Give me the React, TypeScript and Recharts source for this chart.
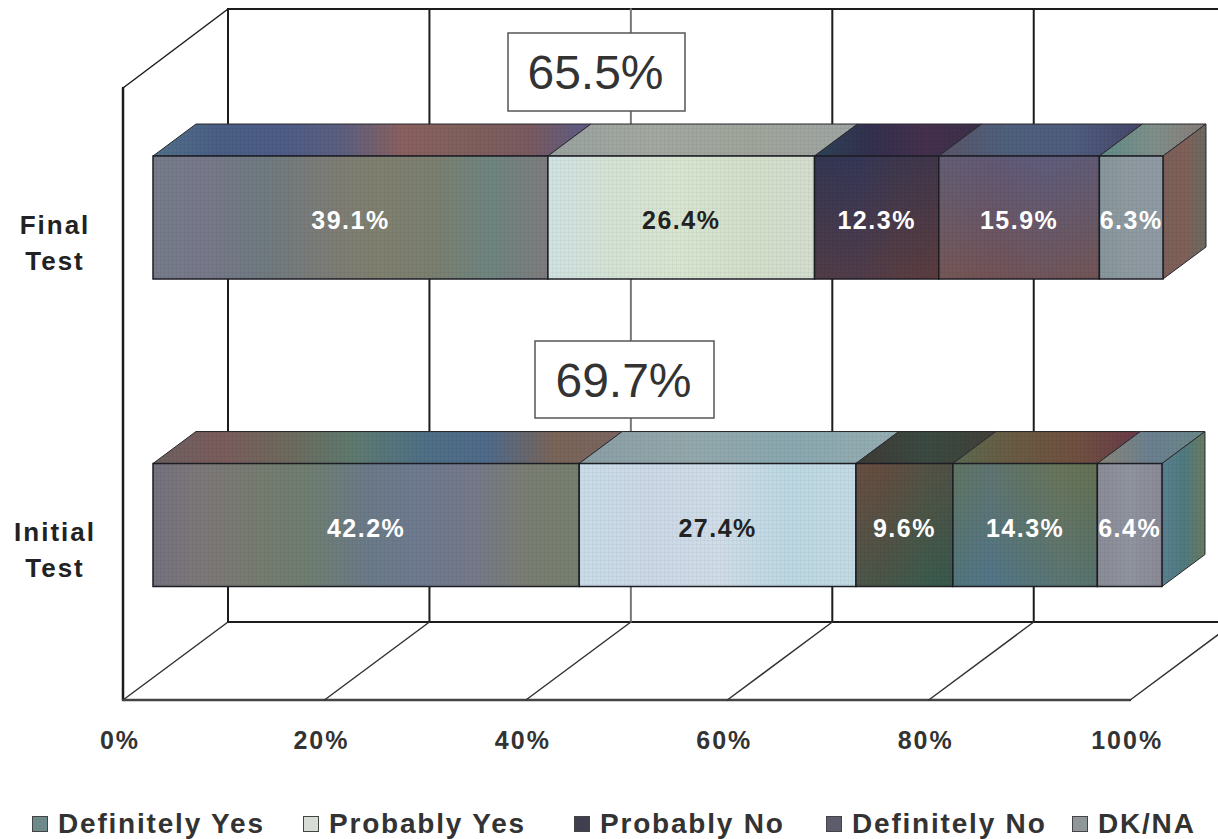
import React from "react";
import { BarChart, Bar, XAxis, YAxis, CartesianGrid, Legend, LabelList, Customized } from "recharts";

// Survey answers per test round, in percent.
const tests = ["Final Test", "Initial Test"];
const definitelyYes = [39.1, 42.2];
const probablyYes = [26.4, 27.4];
const probablyNo = [12.3, 9.6];
const definitelyNo = [15.9, 14.3];
const dkNa = [6.3, 6.4];
const yesTotals = ["65.5%", "69.7%"];
const answers = ["Definitely Yes", "Probably Yes", "Probably No", "Definitely No", "DK/NA"];
const percentTicks = [0, 20, 40, 60, 80, 100];

const rows = tests.map((test, i) => ({
  test,
  [answers[0]]: definitelyYes[i],
  [answers[1]]: probablyYes[i],
  [answers[2]]: probablyNo[i],
  [answers[3]]: definitelyNo[i],
  [answers[4]]: dkNa[i],
}));

const FONT = '"Liberation Sans", Arial, sans-serif';
const WIDTH = 1218;
const HEIGHT = 839;

// Projection of the 3D box
const PLOT_LEFT = 153;
const WALL_SCALE = 0.9972;
const BAR_DX = 43;
const BAR_DY = -32;
const WALL_DX = 75;
const FLOOR_DX = -30;
const WALL_TOP = 9;
const WALL_BOTTOM = 622;
const FLOOR_FRONT = 700;
const SIDE_WALL_TOP = 88;
const SIDE_WALL_X = 123;
const FLOOR_RIGHT = 1130;

const swatches = ["#6f8a8a", "#d6ddd6", "#3f3f4f", "#5c5c6c", "#8f9798"];

// Mottled print colours, left to right, for each test and answer
const frontTones = [
  [
    ["#767c8a", "#77788a", "#6f7a80", "#7c7c78", "#80806f", "#7a8070", "#6f8580", "#7e7c7e"],
    ["#cfe2e2", "#d5e3d5", "#d8e5d0", "#d3dfca", "#d3ddce"],
    ["#3d3a55", "#3d3a5c", "#4a3c4f", "#503a48"],
    ["#6e5c68", "#6b5568", "#665a72", "#6a5868"],
    ["#87969c", "#8e9aa0", "#8f9aa5"],
  ],
  [
    ["#75717e", "#7d7878", "#757c70", "#6f7e72", "#6b7a88", "#6e7a90", "#75798a", "#7a7e72", "#768070"],
    ["#c8dce8", "#ccd8e6", "#cfdde8", "#bcd8e2", "#c3dae4"],
    ["#63504a", "#5a5048", "#48584f", "#3f5550"],
    ["#5a7a70", "#5a7a85", "#5f7a70", "#6a7a62", "#607558"],
    ["#8a8c96", "#8f94a0", "#8a8a96"],
  ],
];
const topTones = [
  [
    ["#50708a", "#4a5f85", "#4d5c88", "#5b5f80", "#8a6060", "#80605c", "#7a5a60", "#5c5c88"],
    ["#9aa3a0", "#a3a8a0", "#a0a59c", "#9fa5a3"],
    ["#2d4256", "#33304f", "#45304e", "#3a3048"],
    ["#5a5468", "#4e607c", "#4f5c7e", "#45466a"],
    ["#5f8c88", "#7f8f8a", "#8a7c78"],
  ],
  [
    ["#6e6060", "#7a5c5c", "#6e6a5c", "#5e7a70", "#4f7085", "#4f6a8a", "#7a6558", "#7a6660"],
    ["#8a9fa5", "#93a8ac", "#8aa8b0", "#95aeb2"],
    ["#3f3a35", "#3a4a42", "#414038"],
    ["#5a6a50", "#6a5a42", "#705040", "#6a3a4a"],
    ["#8a8678", "#6a8090", "#6a8888"],
  ],
];
const sideTones = [
  ["#7a5f58", "#806058", "#6a6a60"],
  ["#5a8090", "#4f7a80", "#6a7a60"],
];
// Colour drift from the top to the bottom of a front face
const driftTones = [
  [null, null, ["#25304f", "#6e4030"], ["#50608f", "#80503a"], null],
  [null, null, ["#70482f", "#2a5f4a"], ["#6a6a4a", "#456f90"], null],
];

function Tones({ id, colors }: { id: string; colors: string[] }) {
  return (
    <linearGradient id={id} x1="0" y1="0" x2="1" y2="0">
      {colors.map((c, i) => (
        <stop key={i} offset={i / (colors.length - 1)} stopColor={c} />
      ))}
    </linearGradient>
  );
}

// One stacked segment drawn as a block: front face, top face and, on the last segment, the end face.
const blockShape = (segment: number) => (props: any) => {
  const { x, y, width, height, index } = props;
  const key = `${index}-${segment}`;
  const isLast = segment === answers.length - 1;
  const drift = driftTones[index][segment];
  const topPoints = `${x},${y} ${x + BAR_DX},${y + BAR_DY} ${x + width + BAR_DX},${y + BAR_DY} ${x + width},${y}`;
  const sidePoints = `${x + width},${y} ${x + width + BAR_DX},${y + BAR_DY} ${x + width + BAR_DX},${y + height + BAR_DY} ${x + width},${y + height}`;
  return (
    <g>
      <defs>
        <Tones id={`front-${key}`} colors={frontTones[index][segment]} />
        <Tones id={`top-${key}`} colors={topTones[index][segment]} />
        {isLast && <Tones id={`side-${key}`} colors={sideTones[index]} />}
        {drift && (
          <linearGradient id={`drift-${key}`} x1="0" y1="0" x2="0" y2="1">
            <stop offset={0} stopColor={drift[0]} stopOpacity={0.35} />
            <stop offset={1} stopColor={drift[1]} stopOpacity={0.4} />
          </linearGradient>
        )}
      </defs>
      <polygon points={topPoints} fill={`url(#top-${key})`} stroke="#2a2a30" strokeWidth={1} />
      <polygon points={topPoints} fill="url(#halftone)" />
      {isLast && (
        <>
          <polygon points={sidePoints} fill={`url(#side-${key})`} stroke="#2a2a30" strokeWidth={1} />
          <polygon points={sidePoints} fill="url(#halftone)" />
        </>
      )}
      <rect x={x} y={y} width={width} height={height} fill={`url(#front-${key})`} />
      {drift && <rect x={x} y={y} width={width} height={height} fill={`url(#drift-${key})`} />}
      <rect x={x} y={y} width={width} height={height} fill="url(#halftone)" stroke="#1d1d24" strokeWidth={1.5} />
    </g>
  );
};

// The walls and floor sit slightly tighter than the bars' own scale.
const onWall = (x: number) => PLOT_LEFT + (x - PLOT_LEFT) * WALL_SCALE;

// Back wall, floor lines and the outline of the box, hung on the value axis ticks.
function wallLine(props: any) {
  const { x1, index } = props;
  const backX = onWall(x1) + WALL_DX;
  const frontX = onWall(x1) + FLOOR_DX;
  const stroke = index === 2 ? "#777" : "#1c1c1c";
  return (
    <g key={`wall-${index}`} fill="none" strokeLinecap="round">
      <defs>
        <pattern id="halftone" width={4} height={4} patternUnits="userSpaceOnUse">
          <path d="M0 0H4M0 0V4" stroke="#000" strokeOpacity={0.07} strokeWidth={1} />
        </pattern>
      </defs>
      <line x1={backX} y1={WALL_TOP} x2={backX} y2={WALL_BOTTOM} stroke={stroke} strokeWidth={2} />
      <line x1={backX} y1={WALL_BOTTOM} x2={frontX} y2={FLOOR_FRONT} stroke="#333" strokeWidth={1.5} />
      {index === 0 && (
        <g stroke="#1c1c1c" strokeWidth={2}>
          <line x1={backX} y1={WALL_TOP} x2={WIDTH} y2={WALL_TOP} />
          <line x1={backX} y1={WALL_BOTTOM} x2={WIDTH} y2={WALL_BOTTOM} />
          <line x1={backX} y1={WALL_TOP} x2={SIDE_WALL_X} y2={SIDE_WALL_TOP} strokeWidth={1.5} />
          <line x1={SIDE_WALL_X} y1={SIDE_WALL_TOP} x2={SIDE_WALL_X} y2={FLOOR_FRONT} strokeWidth={2.5} />
          <line x1={SIDE_WALL_X} y1={FLOOR_FRONT} x2={FLOOR_RIGHT} y2={FLOOR_FRONT} stroke="#444" strokeWidth={2.5} />
        </g>
      )}
    </g>
  );
}

function PercentTick({ x, y, payload }: any) {
  return (
    <text x={onWall(x) + FLOOR_DX - 3} y={y + 62} textAnchor="middle" fontFamily={FONT} fontWeight={700} fontSize={25} letterSpacing={2} fill="#333">
      {payload.value}%
    </text>
  );
}

function TestTick({ y, payload }: any) {
  const [first, second] = String(payload.value).split(" ");
  return (
    <text textAnchor="middle" fontFamily={FONT} fontWeight={700} fontSize={26} letterSpacing={2} fill="#222">
      <tspan x={55} y={y + 16}>{first}</tspan>
      <tspan x={55} y={y + 52}>{second}</tspan>
    </text>
  );
}

// Boxes with the share of "yes" answers above each bar
function YesBoxes() {
  const boxes = [
    { x: 508, y: 33, w: 177, h: 78 },
    { x: 535, y: 341, w: 179, h: 77 },
  ];
  return (
    <g>
      {boxes.map((b, i) => (
        <g key={i}>
          <rect x={b.x} y={b.y} width={b.w} height={b.h} fill="#fff" stroke="#555" strokeWidth={1.5} />
          <text x={b.x + b.w / 2 - 1} y={b.y + b.h / 2 + 17} textAnchor="middle" fontFamily={FONT} fontSize={48} fill="#333">
            {yesTotals[i]}
          </text>
        </g>
      ))}
    </g>
  );
}

const legendX = [32, 303, 574, 826, 1072];

function AnswerLegend({ payload }: any) {
  return (
    <div style={{ position: "relative", height: 0 }}>
      {(payload ?? []).map((item: any, i: number) => (
        <div
          key={item.value}
          style={{
            position: "absolute",
            left: legendX[i],
            top: 0,
            display: "flex",
            alignItems: "center",
            whiteSpace: "nowrap",
            fontFamily: FONT,
            fontWeight: 700,
            fontSize: 28,
            lineHeight: "34px",
            letterSpacing: 1.8,
            color: "#333",
          }}
        >
          <span
            style={{
              display: "inline-block",
              boxSizing: "border-box",
              width: 16,
              height: 16,
              marginRight: 10,
              background: item.color,
              border: "1.5px solid #444",
            }}
          />
          {item.value}
        </div>
      ))}
    </div>
  );
}

export default function App() {
  return (
    <div style={{ position: "absolute", left: 0, top: 0, width: WIDTH, height: HEIGHT, background: "#fff", overflow: "hidden" }}>
      <BarChart
        width={WIDTH}
        height={HEIGHT}
        data={rows}
        layout="vertical"
        barSize={123}
        margin={{ top: 64, right: 55, bottom: 100, left: 0 }}
      >
        <CartesianGrid horizontal={false} vertical={wallLine as any} />
        <XAxis type="number" domain={[0, 100]} ticks={percentTicks} height={60} axisLine={false} tickLine={false} tick={<PercentTick />} interval={0} />
        <YAxis type="category" dataKey="test" width={PLOT_LEFT} axisLine={false} tickLine={false} tick={<TestTick />} interval={0} />
        {answers.map((answer, i) => (
          <Bar key={answer} dataKey={answer} stackId="all" fill={swatches[i]} isAnimationActive={false} shape={blockShape(i)}>
            <LabelList
              dataKey={answer}
              position="center"
              formatter={(v: any) => `${v}%`}
              fill={i === 1 ? "#222" : "#fff"}
              fontFamily={FONT}
              fontWeight={700}
              fontSize={25}
              letterSpacing={1.5}
              dy={3}
            />
          </Bar>
        ))}
        <Customized component={<YesBoxes />} />
        <Legend
          content={<AnswerLegend />}
          itemSorter={null}
          wrapperStyle={{ left: 0, width: WIDTH, top: 807, bottom: "auto", height: 0 }}
        />
      </BarChart>
    </div>
  );
}
